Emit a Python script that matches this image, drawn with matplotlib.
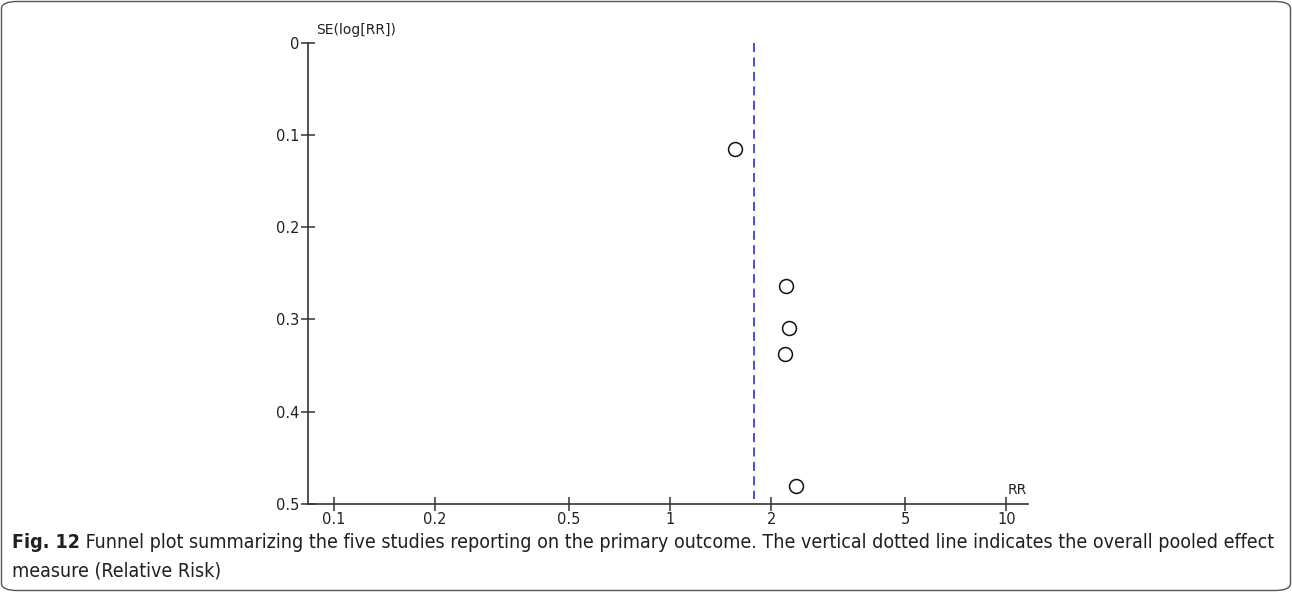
import matplotlib
matplotlib.use("Agg")
import matplotlib.pyplot as plt
from matplotlib.patches import FancyBboxPatch

# Data
rr_values = [1.56, 2.21, 2.25, 2.19, 2.36]
se_values = [0.115, 0.264, 0.309, 0.337, 0.481]
pooled_rr = 1.77
x_ticks = [0.1, 0.2, 0.5, 1, 2, 5, 10]
x_tick_labels = ["0.1", "0.2", "0.5", "1", "2", "5", "10"]
y_ticks = [0, 0.1, 0.2, 0.3, 0.4, 0.5]
y_tick_labels = ["0", "0.1", "0.2", "0.3", "0.4", "0.5"]
caption_bold = "Fig. 12"
caption_line1 = " Funnel plot summarizing the five studies reporting on the primary outcome. The vertical dotted line indicates the overall pooled effect"
caption_line2 = "measure (Relative Risk)"

W, H = 1292, 592
fig = plt.figure(figsize=(W / 100, H / 100), dpi=100)

ax = fig.add_axes([308 / W, 1 - 504 / H, (1028 - 308) / W, (504 - 42.7) / H])
ax.set_xscale("log")
ax.set_xlim(0.0837, 11.6)
ax.set_ylim(0.5, 0)

axis_col = "#333333"
for s in ["top", "right"]:
    ax.spines[s].set_visible(False)
for s in ["left", "bottom"]:
    ax.spines[s].set_color(axis_col)
    ax.spines[s].set_linewidth(1.2)

ax.set_xticks(x_ticks)
ax.set_xticklabels(x_tick_labels)
ax.xaxis.set_minor_locator(matplotlib.ticker.NullLocator())
ax.set_yticks(y_ticks)
ax.set_yticklabels(y_tick_labels)
ax.tick_params(axis="both", direction="inout", length=10, width=1.1,
               colors=axis_col, labelcolor="#222222", labelsize=10.5)
ax.tick_params(axis="x", pad=1)
ax.tick_params(axis="y", pad=1)

ax.plot([pooled_rr, pooled_rr], [0, 0.495], linestyle=(0, (5, 3)),
        color="#3c3ce6", linewidth=1.3)

ax.plot(rr_values, se_values, linestyle="none", marker="o", markersize=10,
        markerfacecolor="none", markeredgecolor="#111111", markeredgewidth=1.1)

fig.text(316 / W, 1 - 30 / H, "SE(log[RR])", fontsize=10, color="#222222",
         ha="left", va="center")
fig.text(1008 / W, 1 - 490 / H, "RR", fontsize=10, color="#222222",
         ha="left", va="center")

# caption, condensed and sized to span the reference width
cap_kw = dict(family="DejaVu Sans", fontstretch="condensed", color="#231f20",
              ha="left", va="center")
target_right = 1277
fs = 13.0
renderer = fig.canvas.get_renderer()
for _ in range(3):
    t1 = fig.text(12 / W, 1 - 542 / H, caption_bold, fontsize=fs,
                  fontweight="bold", **cap_kw)
    bb = t1.get_window_extent(renderer)
    t2 = fig.text(bb.x1 / W, 1 - 542 / H, caption_line1, fontsize=fs, **cap_kw)
    bb2 = t2.get_window_extent(renderer)
    width = bb2.x1 - 12
    t1.remove(); t2.remove()
    fs = fs * (target_right - 12) / width

t1 = fig.text(12 / W, 1 - 542 / H, caption_bold, fontsize=fs,
              fontweight="bold", **cap_kw)
bb = t1.get_window_extent(renderer)
fig.text(bb.x1 / W, 1 - 542 / H, caption_line1, fontsize=fs, **cap_kw)
fig.text(12 / W, 1 - 571 / H, caption_line2, fontsize=fs, **cap_kw)

border = FancyBboxPatch((1.5 / W, 1.5 / H), (W - 3) / W, (H - 3) / H,
                        boxstyle="round,pad=0,rounding_size=0.012",
                        transform=fig.transFigure, fill=False,
                        edgecolor="#555555", linewidth=1.0)
fig.patches.append(border)

fig.savefig("out.png", dpi=100)
